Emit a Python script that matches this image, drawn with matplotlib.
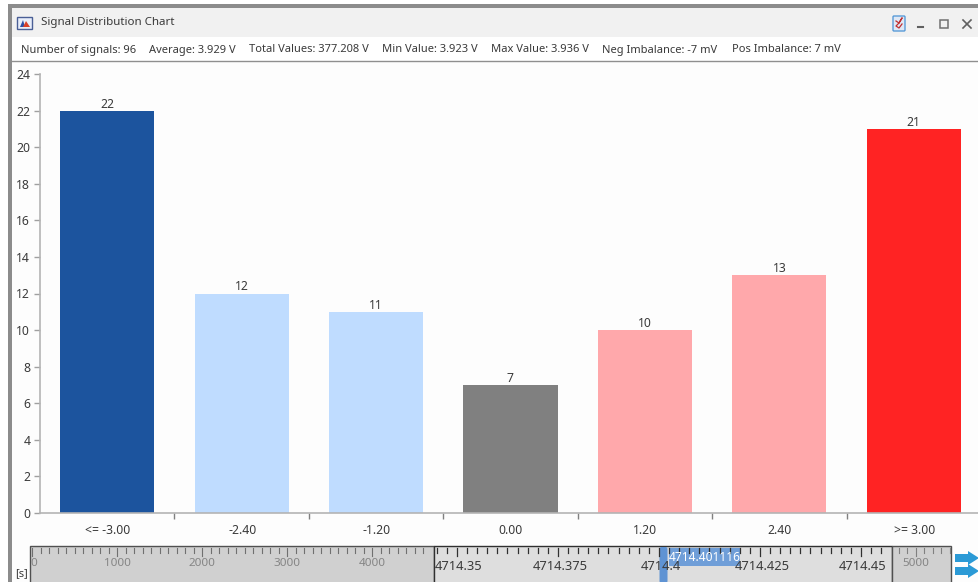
import matplotlib
matplotlib.use('Agg')
import matplotlib.pyplot as plt
from matplotlib.patches import Rectangle, FancyBboxPatch, Polygon

plt.rcParams['font.family'] = ['Noto Sans', 'DejaVu Sans']

categories = ['<= -3.00', '-2.40', '-1.20', '0.00', '1.20', '2.40', '>= 3.00']
counts = [22, 12, 11, 7, 10, 13, 21]
bar_colors = ['#1c549e', '#bfdcff', '#bfdcff', '#808080', '#ffa8ab', '#ffa8ab', '#ff2323']
y_ticks = list(range(0, 25, 2))

title = 'Signal Distribution Chart'
info = ['Number of signals: 96', 'Average: 3.929 V', 'Total Values: 377.208 V', 'Min Value: 3.923 V',
        'Max Value: 3.936 V', 'Neg Imbalance: -7 mV', 'Pos Imbalance: 7 mV']
info_x = [21, 149, 249, 382, 491, 602, 732]

overview_left = [0, 1000, 2000, 3000, 4000]
overview_right = [5000]
zoom_ticks = [4714.35, 4714.375, 4714.4, 4714.425, 4714.45]
cursor = 4714.401116

TXT = '#3a3a3a'
FS = 8.0
CHART_FS = 8.8
W, H = 979, 582
fig = plt.figure(figsize=(W / 100, H / 100), dpi=100, facecolor='white')

# window chrome, in pixels
bg = fig.add_axes([0, 0, 1, 1])
bg.set_xlim(0, W)
bg.set_ylim(H, 0)
bg.axis('off')
bg.add_patch(Rectangle((12, 8), W, 29, fc='#f1f1f1', lw=0))
bg.add_patch(Rectangle((12, 61), W, H, fc='#fdfdfd', lw=0))
bg.add_patch(Rectangle((8, 4), W, 4, fc='#8c8c8c', lw=0))
bg.add_patch(Rectangle((8, 4), 4, H, fc='#8c8c8c', lw=0))
bg.plot([12, W], [61, 61], color='#8f8f8f', lw=1)

# title bar icon
bg.add_patch(Rectangle((17.5, 16.5), 15, 12, fc='#e8eefa', ec='#4a5f96', lw=1))
bg.add_patch(Polygon([(20, 27), (23, 20), (25, 27)], fc='#2c4fa8', lw=0))
bg.add_patch(Polygon([(23, 27), (26, 21), (30, 27)], fc='#d8402a', lw=0))
bg.text(41, 22.5, title, fontsize=FS + 0.3, color=TXT, va='center')
for t, x in zip(info, info_x):
    bg.text(x, 50, t, fontsize=FS, color=TXT, va='center')

# window buttons
bg.add_patch(FancyBboxPatch((894, 17), 10, 13, boxstyle='round,pad=1', fc='#dfe8f5', ec='#5a9bd8', lw=1))
bg.plot([896, 899, 902, 899, 896, 899, 902], [21, 23, 18, 23, 26, 28, 24], color='#c03030', lw=0.9)
bg.plot([918, 923], [27, 27], color='#606060', lw=1.5)
bg.add_patch(Rectangle((940, 20), 8, 8, fc='none', ec='#707070', lw=1.1))
bg.plot([963, 971], [20, 28], color='#606060', lw=1.2)
bg.plot([963, 971], [28, 20], color='#606060', lw=1.2)

# main chart
x0, x1, y_top, y_bot = 40, 981, 74, 513
ax = fig.add_axes([x0 / W, 1 - y_bot / H, (x1 - x0) / W, (y_bot - y_top) / H])
ax.patch.set_alpha(0)
positions = list(range(len(categories)))
bars = ax.bar(positions, counts, width=0.7, color=bar_colors)
ax.bar_label(bars, labels=[str(c) for c in counts], padding=0, fontsize=CHART_FS, color=TXT)
ax.set_xlim(-0.5, 6.5)
ax.set_ylim(0, 24)
ax.set_yticks(y_ticks)
ax.set_xticks([p + 0.5 for p in positions[:-1]])
ax.set_xticklabels([])
ax.tick_params(axis='y', length=4, width=1, color='#a0a0a0', labelsize=CHART_FS, labelcolor=TXT, pad=3)
ax.tick_params(axis='x', length=4, width=1, color='#808080')
for p, c in zip(positions, categories):
    ax.annotate(c, (p, 0), xytext=(0.5, -18), textcoords='offset pixels', ha='center', va='center',
                fontsize=CHART_FS, color=TXT)
for s in ['top', 'right']:
    ax.spines[s].set_visible(False)
for s in ['left', 'bottom']:
    ax.spines[s].set_color('#b4b4b4')
    ax.spines[s].set_linewidth(1.2)

# timeline strip, in pixels
ty = 546
bg.text(15, 574, '[s]', fontsize=8, color=TXT, va='center')
bg.add_patch(Rectangle((30, ty), 404, H - ty + 2, fc='#d0d0d0', ec='#505050', lw=1))
bg.add_patch(Rectangle((434, ty), 458, H - ty + 2, fc='#dedede', ec='#303030', lw=1))
bg.add_patch(Rectangle((892, ty), 59, H - ty + 2, fc='#d0d0d0', ec='#505050', lw=1))

for i in range(47):
    v = i * 100
    x = 32 + v * 0.0851
    bg.plot([x, x], [548, 556 if v % 1000 == 0 else 553], color='#707070', lw=0.8)
for v in overview_left:
    x = 32 + v * 0.0851
    bg.text(x + (0 if v else 2), 564, str(v), fontsize=8.4, color='#858585', ha='center', va='center')
for i in range(7):
    x = 899 + i * 8.5
    bg.plot([x, x], [548, 556 if i == 2 else 553], color='#808080', lw=0.8)
for v in overview_right:
    bg.text(916, 564, str(v), fontsize=8.4, color='#858585', ha='center', va='center')

z_to_x = lambda z: 457 + (z - 4714.35) * 4040
for i in range(-2, 43):
    x = 457 + i * 10.1
    bg.plot([x, x], [548, 556 if i % 10 == 0 else 553], color='#303030', lw=0.9)
zoom_labels = ['4714.35', '4714.375', '4714.4', '4714.425', '4714.45']
for z, lab in zip(zoom_ticks, zoom_labels):
    bg.text(z_to_x(z) + 2, 566, lab, fontsize=9.3, color='#3a3a3a', ha='center', va='center')

cx = z_to_x(cursor)
bg.add_patch(FancyBboxPatch((cx - 2, 549), 4, 32, boxstyle='round,pad=2', fc='#5f93d3', lw=0))
bg.add_patch(Rectangle((669, 548), 71, 18, fc='#6f9ed8', lw=0))
bg.text(704.5, 557.5, f'{cursor:.6f}', fontsize=8.6, color='white', ha='center', va='center')

# scroll arrows
for yc in (558, 571):
    bg.add_patch(Polygon([(955, yc - 4), (968, yc - 4), (968, yc - 7), (979, yc), (968, yc + 7), (968, yc + 4), (955, yc + 4)],
                         fc='#2b9ad6', lw=0))

fig.savefig('out.png', dpi=100)
